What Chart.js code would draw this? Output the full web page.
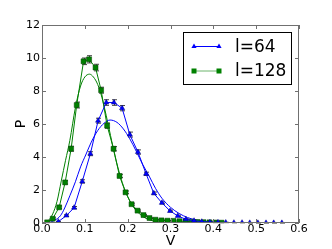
<!DOCTYPE html>
<html>
<head>
<meta charset="utf-8">
<script src="https://cdn.jsdelivr.net/npm/chart.js@4"></script>
<style>
  body { margin: 0; background: #fff; }
</style>
</head>
<body>
<canvas id="c" width="332" height="249"></canvas>
<script>
// l=64 data
const v64 = [0.038, 0.057, 0.075, 0.094, 0.113, 0.131, 0.150, 0.168, 0.187, 0.205, 0.224, 0.243, 0.261, 0.280, 0.299,
  0.317, 0.336, 0.355, 0.373, 0.392, 0.411, 0.429, 0.448, 0.467, 0.485, 0.504, 0.523, 0.541, 0.560];
const p64 = [0.08, 0.45, 0.93, 2.52, 4.2, 6.2, 7.3, 7.3, 6.96, 5.36, 4.3, 2.98, 1.8, 1.22, 0.73,
  0.43, 0.22, 0.14, 0.08, 0.05, 0.04, 0.03, 0.02, 0.02, 0.01, 0.01, 0.01, 0.01, 0.01];
const e64 = [0.02, 0.05, 0.07, 0.1, 0.12, 0.15, 0.17, 0.17, 0.16, 0.15, 0.13, 0.1, 0.08, 0.06, 0.05,
  0.04, 0.03, 0.02, 0.02, 0.01, 0.01, 0.01, 0.01, 0.01, 0.01, 0.01, 0.01, 0.01, 0.01];

// l=128 data
const v128 = [0.012, 0.025, 0.040, 0.054, 0.068, 0.081, 0.097, 0.110, 0.125, 0.138, 0.152, 0.167, 0.181, 0.195, 0.209,
  0.223, 0.237, 0.251, 0.265, 0.279, 0.293, 0.307, 0.321, 0.335, 0.349, 0.363, 0.377, 0.391, 0.405, 0.419];
const p128 = [0.04, 0.26, 0.95, 2.46, 4.5, 7.15, 9.8, 9.92, 9.42, 8.05, 5.9, 4.5, 2.85, 1.86, 1.14,
  0.75, 0.48, 0.3, 0.2, 0.16, 0.14, 0.13, 0.11, 0.1, 0.08, 0.06, 0.05, 0.04, 0.03, 0.02];
const e128 = [0.02, 0.05, 0.08, 0.1, 0.15, 0.18, 0.2, 0.22, 0.2, 0.18, 0.16, 0.13, 0.1, 0.08, 0.06,
  0.04, 0.03, 0.02, 0.02, 0.02, 0.01, 0.01, 0.01, 0.01, 0.01, 0.01, 0.01, 0.01, 0.01, 0.01];

// fitted curves
const fitV64 = [0.01, 0.02, 0.03, 0.043, 0.053, 0.065, 0.078, 0.09, 0.103, 0.115, 0.13, 0.145, 0.159, 0.175, 0.19,
  0.205, 0.22, 0.235, 0.25, 0.265, 0.28, 0.3, 0.32, 0.34, 0.36, 0.38, 0.4, 0.43, 0.46, 0.5];
const fitP64 = [0.0, 0.05, 0.17, 0.44, 0.91, 1.65, 2.5, 3.4, 4.18, 4.9, 5.6, 6.05, 6.24, 6.1, 5.7,
  5.1, 4.35, 3.55, 2.85, 2.1, 1.5, 0.95, 0.58, 0.33, 0.18, 0.1, 0.05, 0.02, 0.01, 0.0];
const fitV128 = [0.005, 0.015, 0.025, 0.035, 0.045, 0.055, 0.065, 0.078, 0.09, 0.1, 0.111, 0.12, 0.13, 0.14,
  0.15, 0.16, 0.17, 0.18, 0.19, 0.2, 0.21, 0.22, 0.235, 0.25, 0.27, 0.29, 0.32, 0.36];
const fitP128 = [0.0, 0.15, 0.55, 1.3, 2.55, 3.8, 5.0, 7.0, 8.3, 8.85, 9.02, 8.85, 8.4, 7.6,
  6.5, 5.3, 4.1, 3.1, 2.25, 1.6, 1.1, 0.75, 0.4, 0.2, 0.08, 0.03, 0.01, 0.0];

const xTicks = [0, 0.1, 0.2, 0.3, 0.4, 0.5, 0.6];
const yTicks = [0, 2, 4, 6, 8, 10, 12];

const BLUE = '#0000ff';
const GREEN = '#008000';
const FONT = 'DejaVu Sans';

const pts = (xs, ys) => xs.map((x, i) => ({ x: x, y: ys[i] }));

// error bars, drawn under the markers
const errorBars = {
  id: 'errorBars',
  beforeDatasetsDraw(chart) {
    const { ctx, scales: { x, y } } = chart;
    ctx.save();
    ctx.strokeStyle = '#444';
    ctx.lineWidth = 1;
    chart.data.datasets.forEach(ds => {
      if (!ds.errors) return;
      ds.data.forEach((p, j) => {
        const e = ds.errors[j];
        const px = Math.round(x.getPixelForValue(p.x)) + 0.5;
        const t = y.getPixelForValue(p.y + e);
        const b = y.getPixelForValue(Math.max(0, p.y - e));
        ctx.beginPath();
        ctx.moveTo(px, t); ctx.lineTo(px, b);
        ctx.moveTo(px - 2.5, t); ctx.lineTo(px + 2.5, t);
        ctx.moveTo(px - 2.5, b); ctx.lineTo(px + 2.5, b);
        ctx.stroke();
      });
    });
    ctx.restore();
  }
};

function marker(ctx, style, x, y, color) {
  ctx.fillStyle = color;
  ctx.beginPath();
  if (style === 'triangle') {
    ctx.moveTo(x, y - 3);
    ctx.lineTo(x + 2.6, y + 1.5);
    ctx.lineTo(x - 2.6, y + 1.5);
    ctx.closePath();
  } else {
    ctx.rect(x - 2.5, y - 2.5, 5, 5);
  }
  ctx.fill();
}

// matplotlib-style frame, inward ticks and legend box
const frame = {
  id: 'frame',
  afterDraw(chart) {
    const { ctx, chartArea: a, scales: { x, y } } = chart;
    ctx.save();
    ctx.strokeStyle = '#707070';
    ctx.lineWidth = 1;
    ctx.strokeRect(a.left + 0.5, a.top + 0.5, a.right - a.left - 1, a.bottom - a.top - 1);
    ctx.beginPath();
    xTicks.forEach(t => {
      const px = Math.round(x.getPixelForValue(t)) + 0.5;
      ctx.moveTo(px, a.bottom); ctx.lineTo(px, a.bottom - 4);
      ctx.moveTo(px, a.top); ctx.lineTo(px, a.top + 4);
    });
    yTicks.forEach(t => {
      const py = Math.round(y.getPixelForValue(t)) + 0.5;
      ctx.moveTo(a.left, py); ctx.lineTo(a.left + 4, py);
      ctx.moveTo(a.right, py); ctx.lineTo(a.right - 4, py);
    });
    ctx.stroke();

    // legend
    const lx = 183, ly = 32, lw = 108, lh = 52;
    ctx.fillStyle = '#fff';
    ctx.fillRect(lx, ly, lw, lh);
    ctx.strokeStyle = '#000';
    ctx.strokeRect(lx + 0.5, ly + 0.5, lw, lh);
    const items = chart.data.datasets.filter(d => d.label);
    items.forEach((d, i) => {
      const yy = 46.5 + i * 24.5;
      ctx.strokeStyle = d.legendLine;
      ctx.beginPath();
      ctx.moveTo(194, yy); ctx.lineTo(219, yy);
      ctx.stroke();
      marker(ctx, d.pointStyle, 194, yy, d.pointBackgroundColor);
      marker(ctx, d.pointStyle, 219, yy, d.pointBackgroundColor);
      ctx.fillStyle = '#000';
      ctx.font = '17px "' + FONT + '"';
      ctx.textBaseline = 'middle';
      ctx.fillText(d.label, 235, yy + 1);
    });
    ctx.restore();
  }
};

new Chart(document.getElementById('c'), {
  type: 'scatter',
  data: {
    datasets: [
      {
        label: 'l=64', data: pts(v64, p64), errors: e64, showLine: true,
        borderColor: BLUE, borderWidth: 1, pointStyle: 'triangle', pointRadius: 3,
        pointBackgroundColor: BLUE, pointBorderColor: '#000080', pointBorderWidth: 0.5, legendLine: BLUE
      },
      {
        label: 'l=128', data: pts(v128, p128), errors: e128, showLine: true,
        borderColor: GREEN, borderWidth: 1, pointStyle: 'rect', pointRadius: 3.5,
        pointBackgroundColor: GREEN, pointBorderColor: '#004000', pointBorderWidth: 0.5, legendLine: '#6cb46c'
      },
      {
        data: pts(fitV64, fitP64), showLine: true, borderColor: BLUE, borderWidth: 1,
        pointRadius: 0, cubicInterpolationMode: 'monotone'
      },
      {
        data: pts(fitV128, fitP128), showLine: true, borderColor: GREEN, borderWidth: 1,
        pointRadius: 0, cubicInterpolationMode: 'monotone'
      }
    ]
  },
  options: {
    responsive: false,
    animation: false,
    layout: { padding: { left: 9, right: 33, top: 25, bottom: 0 } },
    plugins: { legend: { display: false }, tooltip: { enabled: false } },
    scales: {
      x: {
        type: 'linear', min: 0, max: 0.6,
        afterBuildTicks: s => { s.ticks = xTicks.map(v => ({ value: v })); },
        afterFit: s => { s.height = 26; },
        ticks: { callback: v => v.toFixed(1), color: '#000', padding: 0, maxRotation: 0, font: { family: FONT, size: 11 } },
        grid: { display: false, drawTicks: false },
        border: { display: false },
        title: { display: true, text: 'V', color: '#000', font: { family: FONT, size: 14 }, padding: { top: 0, bottom: -1 } }
      },
      y: {
        min: 0, max: 12,
        afterBuildTicks: s => { s.ticks = yTicks.map(v => ({ value: v })); },
        afterFit: s => { s.width = 33; },
        ticks: { color: '#000', padding: 2, font: { family: FONT, size: 11 } },
        grid: { display: false, drawTicks: false },
        border: { display: false },
        title: { display: true, text: 'P', color: '#000', font: { family: FONT, size: 14 }, padding: { top: 4, bottom: 0 } }
      }
    }
  },
  plugins: [errorBars, frame]
});
</script>
</body>
</html>
